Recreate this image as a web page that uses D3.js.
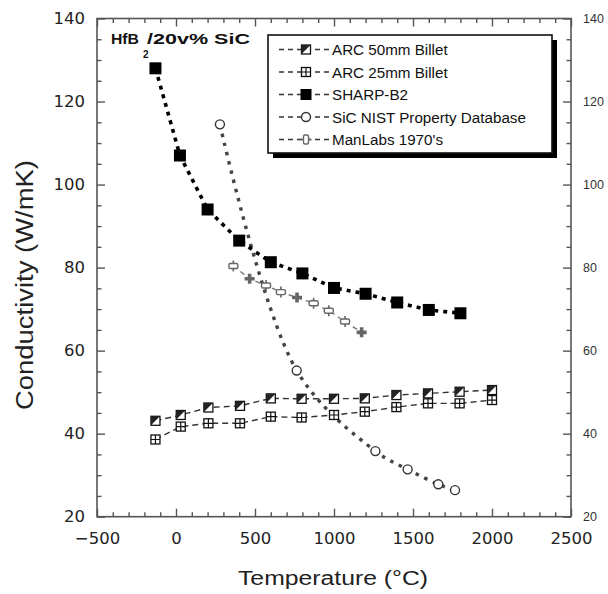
<!DOCTYPE html>
<html>
<head>
<meta charset="utf-8">
<script src="https://cdn.jsdelivr.net/npm/d3@7"></script>
<style>
  body { margin: 0; background: #fff; }
  svg { display: block; }
</style>
</head>
<body>
<div id="chart"></div>
<script>
// Thermal conductivity of HfB2/20v% SiC vs temperature
const sharpT = [-130, 25, 200, 400, 600, 800, 1000, 1200, 1400, 1600, 1800];
const sharpK = [128, 107, 94, 86.5, 81.3, 78.6, 75.1, 73.7, 71.6, 69.8, 69.0];

const arc50T = [-130, 30, 205, 405, 600, 795, 1000, 1195, 1395, 1595, 1795, 2000];
const arc50K = [43.1, 44.5, 46.3, 46.7, 48.5, 48.4, 48.4, 48.5, 49.3, 49.7, 50.1, 50.5];

const arc25T = [-130, 30, 205, 405, 600, 795, 1000, 1195, 1395, 1595, 1795, 2000];
const arc25K = [38.6, 41.7, 42.5, 42.5, 44.1, 43.9, 44.5, 45.3, 46.4, 47.3, 47.3, 48.1];

const nistT = [278, 764, 1262, 1466, 1660, 1766];
const nistK = [114.5, 55.2, 35.8, 31.4, 27.8, 26.4];

const manT = [363, 466, 570, 664, 766, 871, 967, 1070, 1175];
const manK = [80.4, 77.3, 75.7, 74.1, 72.8, 71.4, 69.6, 67.0, 64.4];
const manFilled = [false, true, false, false, true, false, false, false, true];

const seriesNames = ['ARC 50mm Billet', 'ARC 25mm Billet', 'SHARP-B2', 'SiC NIST Property Database', "ManLabs 1970's"];
const xTicks = [-500, 0, 500, 1000, 1500, 2000, 2500];
const yTicks = [20, 40, 60, 80, 100, 120, 140];

const width = 608, height = 594;
const plot = {left: 97, right: 571, top: 18.5, bottom: 516.7};

const svg = d3.select('#chart').append('svg')
    .attr('width', width)
    .attr('height', height)
    .attr('font-family', 'Liberation Sans, Arial, sans-serif');

const x = d3.scaleLinear().domain([-500, 2500]).range([plot.left, plot.right]);
const y = d3.scaleLinear().domain([20, 140]).range([plot.bottom, plot.top]);

const axisColor = '#555';
const plain = d3.format('d');
const minorX = d3.range(-500, 2501, 100).filter(v => v % 500 !== 0);
const minorY = d3.range(20, 141, 5).filter(v => v % 20 !== 0);

function styleAxis(g){
    g.select('.domain').remove();
    g.selectAll('.tick line').attr('stroke', axisColor).attr('stroke-width', 1.4);
    g.selectAll('.tick text').attr('fill', '#222');
}

// bottom
svg.append('g').attr('transform', `translate(0,${plot.bottom})`)
    .call(d3.axisBottom(x).tickValues(xTicks).tickFormat(plain).tickSize(-8).tickPadding(16))
    .call(styleAxis)
    .selectAll('text').attr('font-family', 'DejaVu Sans').attr('font-size', 16.5);
svg.append('g').attr('transform', `translate(0,${plot.bottom})`)
    .call(d3.axisBottom(x).tickValues(minorX).tickSize(-4.5).tickFormat(''))
    .call(styleAxis);
// top
svg.append('g').attr('transform', `translate(0,${plot.top})`)
    .call(d3.axisTop(x).tickValues(xTicks).tickSize(-8).tickFormat(''))
    .call(styleAxis);
svg.append('g').attr('transform', `translate(0,${plot.top})`)
    .call(d3.axisTop(x).tickValues(minorX).tickSize(-4.5).tickFormat(''))
    .call(styleAxis);
// left
svg.append('g').attr('transform', `translate(${plot.left},0)`)
    .call(d3.axisLeft(y).tickValues(yTicks).tickFormat(plain).tickSize(-8).tickPadding(12))
    .call(styleAxis)
    .selectAll('text').attr('font-family', 'DejaVu Sans').attr('font-size', 16.5);
svg.append('g').attr('transform', `translate(${plot.left},0)`)
    .call(d3.axisLeft(y).tickValues(minorY).tickSize(-4.5).tickFormat(''))
    .call(styleAxis);
// right
svg.append('g').attr('transform', `translate(${plot.right},0)`)
    .call(d3.axisRight(y).tickValues(yTicks).tickFormat(plain).tickSize(-8).tickPadding(12))
    .call(styleAxis)
    .selectAll('text').attr('font-size', 12.5).attr('fill', '#333');
svg.append('g').attr('transform', `translate(${plot.right},0)`)
    .call(d3.axisRight(y).tickValues(minorY).tickSize(-4.5).tickFormat(''))
    .call(styleAxis);

// frame
svg.append('rect')
    .attr('x', plot.left).attr('y', plot.top)
    .attr('width', plot.right - plot.left).attr('height', plot.bottom - plot.top)
    .attr('fill', 'none').attr('stroke', axisColor).attr('stroke-width', 1.6);

// axis titles
svg.append('text')
    .attr('x', (plot.left + plot.right) / 2 - 1).attr('y', 585)
    .attr('text-anchor', 'middle')
    .attr('font-size', 20).attr('fill', '#222')
    .attr('textLength', 190).attr('lengthAdjust', 'spacingAndGlyphs')
    .text('Temperature (°C)');
svg.append('text')
    .attr('transform', 'translate(33,285) rotate(-90)')
    .attr('text-anchor', 'middle')
    .attr('font-size', 23).attr('fill', '#222')
    .attr('textLength', 250).attr('lengthAdjust', 'spacingAndGlyphs')
    .text('Conductivity (W/mK)');

// material label
const lbl = svg.append('g').attr('font-weight', 'bold').attr('fill', '#111');
lbl.append('text').attr('x', 111).attr('y', 44).attr('font-size', 15.5)
    .attr('textLength', 28).attr('lengthAdjust', 'spacingAndGlyphs').text('HfB');
lbl.append('text').attr('x', 143).attr('y', 58).attr('font-size', 10).text('2');
lbl.append('text').attr('x', 147).attr('y', 44).attr('font-size', 15.5)
    .attr('textLength', 103).attr('lengthAdjust', 'spacingAndGlyphs').text('/20v% SiC');

// lines
const zip = (xs, ys) => xs.map((v, i) => [v, ys[i]]);
const line = d3.line().x(d => x(d[0])).y(d => y(d[1]));
const smooth = d3.line().x(d => x(d[0])).y(d => y(d[1])).curve(d3.curveCatmullRom.alpha(0.5));

const lines = [
    {data: zip(arc50T, arc50K), gen: line, color: '#333', w: 1.4, dash: '6,4'},
    {data: zip(arc25T, arc25K), gen: line, color: '#333', w: 1.4, dash: '6,4'},
    {data: zip(manT, manK), gen: line, color: '#777', w: 1.4, dash: '5,4'},
    {data: zip(nistT, nistK), gen: smooth, color: '#444', w: 3.4, dash: '3.5,6'},
    {data: zip(sharpT, sharpK), gen: line, color: '#000', w: 3.6, dash: '4,5'}
];
svg.append('g').selectAll('path').data(lines).join('path')
    .attr('d', d => d.gen(d.data))
    .attr('fill', 'none')
    .attr('stroke', d => d.color)
    .attr('stroke-width', d => d.w)
    .attr('stroke-dasharray', d => d.dash);

// marker drawing helpers
function arc50Mark(g){
    const s = 9;
    g.append('rect').attr('x', -s/2).attr('y', -s/2).attr('width', s).attr('height', s)
        .attr('fill', '#fff').attr('stroke', '#111').attr('stroke-width', 1.3);
    g.append('path').attr('d', `M${-s/2},${-s/2}L${s/2},${-s/2}L${-s/2},${s/2}Z`).attr('fill', '#222');
}
function arc25Mark(g){
    const s = 9;
    g.append('rect').attr('x', -s/2).attr('y', -s/2).attr('width', s).attr('height', s)
        .attr('fill', '#fff').attr('stroke', '#111').attr('stroke-width', 1.3);
    g.append('path').attr('d', `M0,${-s/2}V${s/2}M${-s/2},0H${s/2}`).attr('stroke', '#111').attr('stroke-width', 1.2);
}
function sharpMark(g){
    const s = 12;
    g.append('rect').attr('x', -s/2).attr('y', -s/2).attr('width', s).attr('height', s).attr('fill', '#000');
}
function nistMark(g){
    g.append('circle').attr('r', 4.5).attr('fill', '#fff').attr('stroke', '#333').attr('stroke-width', 1.4);
}
function manMark(g, filled){
    if (filled) {
        g.append('path').attr('d', 'M-5,-1.8H-1.8V-5H1.8V-1.8H5V1.8H1.8V5H-1.8V1.8H-5Z').attr('fill', '#666');
    } else {
        g.append('path').attr('d', 'M0,-5.5V5.5').attr('stroke', '#666').attr('stroke-width', 1.6);
        g.append('rect').attr('x', -4.5).attr('y', -2.5).attr('width', 9).attr('height', 5).attr('rx', 1.5)
            .attr('fill', '#fff').attr('stroke', '#666').attr('stroke-width', 1.4);
    }
}

function drawMarks(data, fn, extra){
    svg.append('g').selectAll('g').data(data).join('g')
        .attr('transform', d => `translate(${x(d[0])},${y(d[1])})`)
        .each(function(d, i){ fn(d3.select(this), extra ? extra[i] : undefined); });
}
drawMarks(zip(manT, manK), manMark, manFilled);
drawMarks(zip(nistT, nistK), nistMark);
drawMarks(zip(arc25T, arc25K), arc25Mark);
drawMarks(zip(arc50T, arc50K), arc50Mark);
drawMarks(zip(sharpT, sharpK), sharpMark);

// legend
const leg = svg.append('g');
const box = {x: 268, y: 35, w: 284, h: 118};
leg.append('rect').attr('x', box.x + 5).attr('y', box.y + 5).attr('width', box.w).attr('height', box.h).attr('fill', '#000');
leg.append('rect').attr('x', box.x).attr('y', box.y).attr('width', box.w).attr('height', box.h)
    .attr('fill', '#fff').attr('stroke', '#111').attr('stroke-width', 1.6);
const legMarks = [arc50Mark, arc25Mark, sharpMark, nistMark, g => manMark(g.append('g').attr('transform', 'rotate(90)'), false)];
const rows = leg.selectAll('g.row').data(seriesNames).join('g')
    .attr('class', 'row')
    .attr('transform', (d, i) => `translate(0,${55 + i * 22.5})`);
rows.append('path')
    .attr('d', 'M279,-5.5H331')
    .attr('stroke', '#333').attr('stroke-width', 1.5).attr('stroke-dasharray', '5,4');
rows.each(function(d, i){
    const g = d3.select(this).append('g').attr('transform', 'translate(306,-5.5)');
    if (i === 2) {
        g.append('rect').attr('x', -5.5).attr('y', -5.5).attr('width', 11).attr('height', 11).attr('fill', '#000');
    } else {
        legMarks[i](g);
    }
});
rows.append('text')
    .attr('x', 332).attr('y', 0)
    .attr('font-size', 15.2).attr('fill', '#111')
    .text(d => d);
</script>
</body>
</html>
